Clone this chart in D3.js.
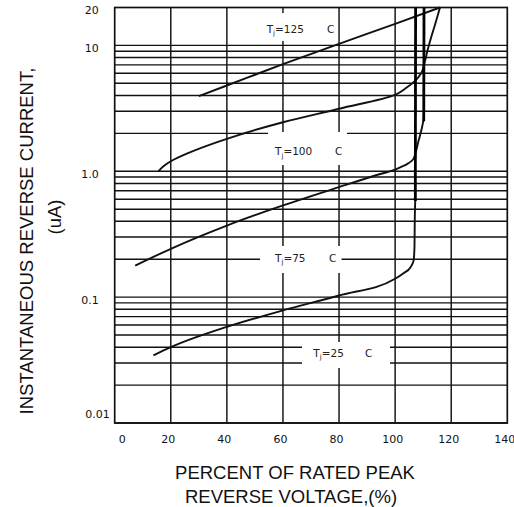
<!DOCTYPE html>
<html>
<head>
  <meta charset="utf-8">
  <script src="https://cdn.jsdelivr.net/npm/d3@7"></script>
  <style>
    body { margin: 0; background: #fff; }
    svg { display: block; }
    .tick text { font-family: "DejaVu Sans", sans-serif; font-size: 11px; fill: #111; }
    .title { font-family: "Liberation Sans", Arial, sans-serif; font-size: 18.5px; fill: #111; }
    .clabel { font-family: "DejaVu Sans", sans-serif; font-size: 10.5px; fill: #222; }
  </style>
</head>
<body>
<script>
  // values (percent of rated voltage, uA)
  var xTicks = [0, 20, 40, 60, 80, 100, 120, 140];
  var yTicks = [0.01, 0.1, 1, 10, 20];
  var yTickLabels = ["0.01", "0.1", "1.0", "10", "20"];
  var tempLabels = ["125", "100", "75", "25"];

  var tj125 = [[30, 3.95], [40, 4.8], [60, 7.1], [80, 10.3], [100, 14.8], [116, 20]];
  var tj100 = [[15.6, 1.0], [17.5, 1.1], [20, 1.2], [25.7, 1.38], [40, 1.81], [60, 2.45],
               [80, 3.14], [100, 4.05], [104, 4.6], [107, 5.2], [109.3, 6.0], [110.5, 7.3],
               [111.6, 9.2], [112.8, 11.5], [114.3, 14.8], [116, 20]];
  var tj75 = [[7.3, 0.178], [20, 0.242], [40, 0.37], [60, 0.535], [80, 0.748], [95, 0.955],
              [100, 1.03], [102, 1.08], [104.5, 1.15], [106.6, 1.26], [108.4, 1.76],
              [109.6, 2.24], [110.2, 2.6]];
  var tj75Break = [[110.2, 2.5], [110.3, 20]];
  var tj25 = [[13.8, 0.0344], [20, 0.040], [40, 0.058], [60, 0.0784], [80, 0.103],
              [100, 0.14], [103, 0.155], [105.5, 0.173], [106.6, 0.196], [106.9, 0.25],
              [107, 0.4], [107.2, 0.6]];
  var tj25Break = [[107.2, 0.58], [107.3, 20]];

  var width = 514, height = 507;
  var pLeft = 114.7, pRight = 507.3, pTop = 7.5, pBottom = 423;

  var svg = d3.select("body").append("svg")
    .attr("width", width)
    .attr("height", height);

  var x = d3.scaleLinear().domain([0, 140]).range([pLeft, pRight]);
  var y = d3.scaleLog().domain([0.01, 20]).range([pBottom, pTop]);

  // grid: every 1..9 per decade, plus every 20 %
  var minor = [];
  [0.01, 0.1, 1].forEach(function(d) {
    for (var k = 1; k <= 9; k++) minor.push(+(d * k).toPrecision(3));
  });
  minor.push(10);

  var grid = svg.append("g").attr("stroke", "#111").attr("stroke-width", 1.45);
  grid.selectAll("line.h").data(minor).enter().append("line")
    .attr("x1", pLeft).attr("x2", pRight)
    .attr("y1", function(d) { return y(d); })
    .attr("y2", function(d) { return y(d); });
  grid.selectAll("line.v").data(xTicks.slice(1, -1)).enter().append("line")
    .attr("y1", pTop).attr("y2", pBottom)
    .attr("x1", function(d) { return x(d); })
    .attr("x2", function(d) { return x(d); });

  // white patches behind the temperature labels
  var masks = [[262, 13, 74, 28], [268, 132, 79, 33], [260, 246, 81.5, 27], [302, 342, 88, 26]];
  svg.selectAll("rect.mask").data(masks).enter().append("rect")
    .attr("x", function(d) { return d[0]; })
    .attr("y", function(d) { return d[1]; })
    .attr("width", function(d) { return d[2]; })
    .attr("height", function(d) { return d[3]; })
    .attr("fill", "#fff");

  svg.append("rect")
    .attr("x", pLeft).attr("y", pTop)
    .attr("width", pRight - pLeft).attr("height", pBottom - pTop)
    .attr("fill", "none").attr("stroke", "#111").attr("stroke-width", 1.7);

  var line = d3.line()
    .x(function(d) { return x(d[0]); })
    .y(function(d) { return y(d[1]); })
    .curve(d3.curveMonotoneX);
  var lineY = d3.line()
    .x(function(d) { return x(d[0]); })
    .y(function(d) { return y(d[1]); })
    .curve(d3.curveMonotoneY);

  [tj125, tj75, tj25].forEach(function(s) {
    svg.append("path").attr("d", line(s))
      .attr("fill", "none").attr("stroke", "#111").attr("stroke-width", 1.9);
  });
  // the 100 C curve bends over, so it is smoothed along y
  svg.append("path").attr("d", lineY(tj100))
    .attr("fill", "none").attr("stroke", "#111").attr("stroke-width", 1.9);
  [tj75Break, tj25Break].forEach(function(s) {
    svg.append("path").attr("d", d3.line()
        .x(function(d) { return x(d[0]); })
        .y(function(d) { return y(d[1]); })(s))
      .attr("fill", "none").attr("stroke", "#000").attr("stroke-width", 2.8);
  });

  // temperature labels
  var lpos = [[266.7, 32.7, 327], [275, 155, 335], [275, 261.5, 329], [313.3, 356.7, 365]];
  tempLabels.forEach(function(t, i) {
    var p = lpos[i];
    var tx = svg.append("text").attr("class", "clabel").attr("x", p[0]).attr("y", p[1]);
    tx.append("tspan").text("T");
    tx.append("tspan").attr("font-size", "7px").attr("dy", 2.5).text("j");
    tx.append("tspan").attr("dy", -2.5).text("=" + t);
    svg.append("text").attr("class", "clabel").attr("x", p[2]).attr("y", p[1]).text("C");
  });

  // axes
  var xAxis = svg.append("g")
    .attr("transform", "translate(0," + pBottom + ")")
    .call(d3.axisBottom(x).tickValues(xTicks).tickSize(0).tickFormat(d3.format("d")));
  xAxis.select(".domain").remove();
  xAxis.selectAll(".tick text")
    .attr("y", 12)
    .attr("dx", function(d) { return d === 0 ? 7 : -3; });

  var yAxis = svg.append("g")
    .attr("transform", "translate(" + pLeft + ",0)")
    .call(d3.axisLeft(y).tickValues(yTicks).tickSize(0)
      .tickFormat(function(d, i) { return yTickLabels[i]; }));
  yAxis.select(".domain").remove();
  yAxis.selectAll(".tick text")
    .attr("x", function(d) { return d === 0.01 ? -5 : -16; })
    .attr("dy", function(d) { return d === 0.01 ? "-0.5em" : (d === 20 ? "0.5em" : "0.6em"); });

  svg.append("text").attr("class", "title")
    .attr("x", 295).attr("y", 478.5).attr("text-anchor", "middle")
    .text("PERCENT OF RATED PEAK");
  svg.append("text").attr("class", "title")
    .attr("x", 291).attr("y", 503).attr("text-anchor", "middle")
    .text("REVERSE VOLTAGE,(%)");
  svg.append("text").attr("class", "title")
    .attr("transform", "translate(33,241) rotate(-90)").attr("text-anchor", "middle")
    .text("INSTANTANEOUS REVERSE CURRENT,");
  svg.append("text").attr("class", "title")
    .attr("transform", "translate(61,217) rotate(-90)").attr("text-anchor", "middle")
    .text("(uA)");
</script>
</body>
</html>
